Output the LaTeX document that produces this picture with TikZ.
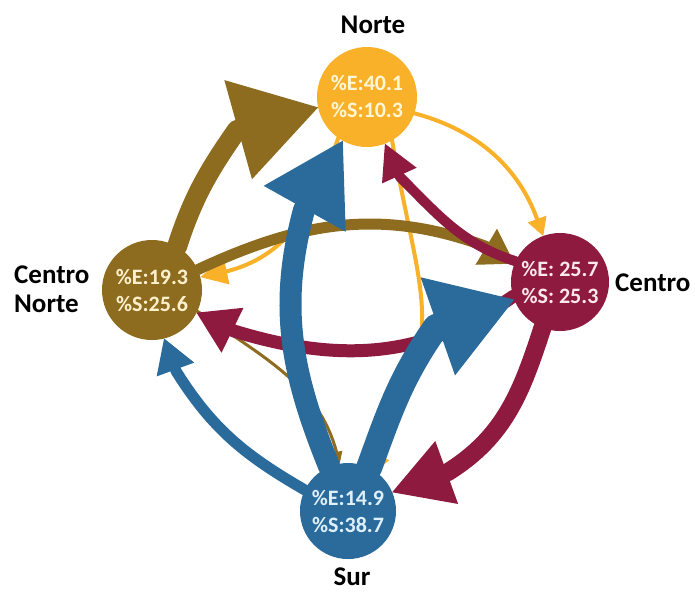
\documentclass[tikz,border=0pt]{standalone}
\usepackage{fontspec}
\setmainfont{Carlito}
\usetikzlibrary{arrows.meta,backgrounds}
\definecolor{cN}{RGB}{248,177,41}
\definecolor{cCN}{RGB}{141,108,31}
\definecolor{cC}{RGB}{142,26,63}
\definecolor{cS}{RGB}{43,107,156}
\definecolor{tN}{RGB}{255,246,214}
\definecolor{tCN}{RGB}{255,240,205}
\definecolor{tC}{RGB}{252,232,238}
\definecolor{tS}{RGB}{222,240,250}
\begin{document}
\begin{tikzpicture}[x=1pt,y=1pt,
  region/.style={circle, inner sep=0pt, outer sep=0pt, align=center,
    font=\bfseries\fontsize{22}{27}\selectfont},
  lbl/.style={font=\bfseries\fontsize{27}{29}\selectfont, text=black, inner sep=0pt},
  flow/.style={line cap=round, line join=round}]
\useasboundingbox (0,0) rectangle (695,-595);

% regions
\node[region, fill=cN, minimum size=100pt, text=tN] (N) at (367,-97) {\%E:40.1\\\%S:10.3};
\node[region, fill=cCN, minimum size=100pt, text=tCN] (CN) at (152,-290) {\%E:19.3\\\%S:25.6};
\node[region, fill=cC, minimum size=98pt, text=tC] (C) at (560,-282) {\%E: 25.7\\\%S: 25.3};
\node[region, fill=cS, minimum size=96pt, text=tS] (S) at (348,-511) {\%E:14.9\\\%S:38.7};

% labels
\node[lbl] (lN) at (373,-25) {Norte};
\node[lbl, align=left, anchor=west] (lCN) at (14,-289) {Centro\\Norte};
\node[lbl, anchor=west] (lC) at (615,-283) {Centro};
\node[lbl] (lS) at (352,-577) {Sur};

% head base points
\coordinate (hb1) at (237,-130);
\coordinate (hb3) at (400,-177);
\coordinate (hb4) at (485,-246);
\coordinate (hb5) at (234,-331);
\coordinate (hb6) at (228,-271);
\coordinate (hb7) at (304,-210);
\coordinate (hb8) at (436,-327);
\coordinate (hb9) at (176,-371);
\coordinate (hb10) at (448,-472);

\begin{scope}[on background layer]
% thin flows
\draw[flow, cCN, line width=3pt, -{Triangle[length=12pt,width=12pt,line width=0pt]}]
  (CN.335) to[out=-35,in=105] (S.100);
\draw[flow, cN, line width=4pt, -{Triangle[length=16pt,width=17pt,line width=0pt]}]
  (N.300) to[out=-80,in=65,looseness=1.3] (S.56);
\draw[flow, cN, line width=4pt, -{Triangle[length=18pt,width=20pt,line width=0pt]}]
  (N.-19) to[out=-15,in=110] (C.110);
\draw[flow, cN, line width=4pt, -{Triangle[length=27pt,width=27pt,line width=0pt]}]
  (N.235) to[out=250,in=15] (hb6) -- (CN.15);
% olive
\draw[flow, cCN, line width=11pt, -{Triangle[length=33pt,width=42pt,line width=0pt]}]
  (CN.24) to[out=25,in=160] (hb4) -- (C.158);
\draw[flow, cCN, line width=20pt, -{Triangle[length=83pt,width=103pt,line width=0pt]}]
  (CN.60) to[out=72,in=235] (hb1) -- (N.192);
% crimson
\draw[flow, cC, line width=10pt, -{Triangle[length=35pt,width=38pt,line width=0pt]}]
  (C.155) to[out=162,in=-45] (hb3) -- (N.291);
\draw[flow, cC, line width=13pt, -{Triangle[length=40pt,width=50pt,line width=0pt]}]
  (C.197) to[out=215,in=-17] (hb5) -- (CN.333);
\draw[flow, cC, line width=18pt, -{Triangle[length=58pt,width=67pt,line width=0pt]}]
  (C.249) to[out=252,in=32] (hb10) -- (S.23);
% blue
\draw[flow, cS, line width=11pt, -{Triangle[length=33pt,width=40pt,line width=0pt]}]
  (S.154) to[out=150,in=302] (hb9) -- (CN.284);
\draw[flow, cS, line width=22pt, -{Triangle[length=78pt,width=94pt,line width=0pt]}]
  (S.113) to[out=112,in=255] (hb7) -- (N.241);
\draw[flow, cS, line width=26pt, -{Triangle[length=81pt,width=104pt,line width=0pt]}]
  (S.64) to[out=70,in=235] (hb8) -- (C.201);
\end{scope}
\end{tikzpicture}
\end{document}
